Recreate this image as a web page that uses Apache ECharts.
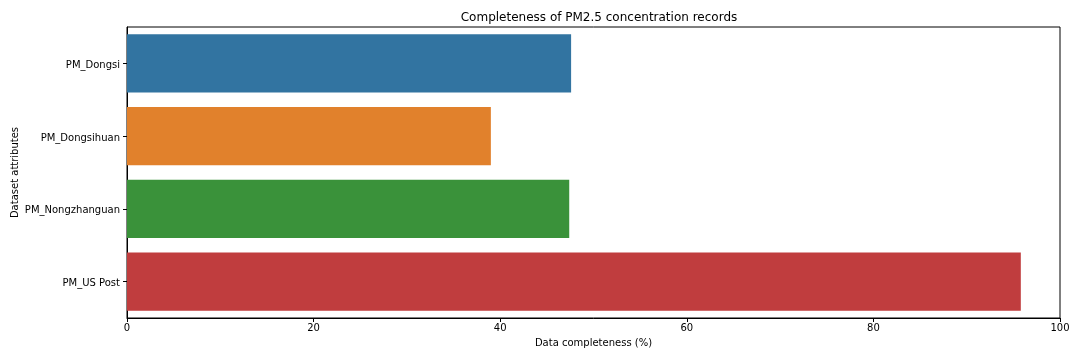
<!DOCTYPE html>
<html><head><meta charset="utf-8">
<script src="https://cdn.jsdelivr.net/npm/echarts@6/dist/echarts.min.js"></script>
<style>html,body{margin:0;padding:0;background:#fff}#c{width:1080px;height:360px}</style>
</head><body><div id="c"></div>
<script>
const categories = ["PM_Dongsi", "PM_Dongsihuan", "PM_Nongzhanguan", "PM_US Post"];
const values = [47.6, 39.0, 47.4, 95.8];
const colors = ["#3274A1", "#E1812C", "#3A923A", "#C03D3E"];
const xTicks = [0, 20, 40, 60, 80, 100];

const font = "DejaVu Sans";
const chart = echarts.init(document.getElementById('c'), null, {renderer: 'canvas'});
chart.setOption({
  animation: false,
  title: {
    text: "Completeness of PM2.5 concentration records",
    left: 594, top: 7, textAlign: 'center',
    textStyle: {fontFamily: font, fontSize: 12, fontWeight: 'normal', color: '#000'}
  },
  grid: {left: 127, right: 20, top: 27, bottom: 42, show: true, borderColor: '#000', borderWidth: 1, containLabel: false, outerBoundsMode: 'none'},
  xAxis: {
    type: 'value', min: xTicks[0], max: xTicks[xTicks.length - 1], interval: 20,
    name: "Data completeness (%)", nameLocation: 'middle', nameGap: 20, nameMoveOverlap: false,
    nameTextStyle: {fontFamily: font, fontSize: 10, color: '#000'},
    axisLine: {show: true, lineStyle: {color: '#000', width: 1}},
    axisTick: {show: true, length: 4, lineStyle: {color: '#000'}},
    axisLabel: {fontFamily: font, fontSize: 10, color: '#000', margin: 5},
    splitLine: {show: false}
  },
  yAxis: {
    type: 'category', data: categories, inverse: true,
    name: "Dataset attributes", nameLocation: 'middle', nameGap: 107, nameRotate: 90, nameMoveOverlap: false,
    nameTextStyle: {fontFamily: font, fontSize: 10, color: '#000'},
    axisLine: {show: true, lineStyle: {color: '#000', width: 1}},
    axisTick: {show: true, length: 4, alignWithLabel: true, lineStyle: {color: '#000'}},
    axisLabel: {
      fontFamily: font, fontSize: 10, color: '#000', margin: 7,
      formatter: '{a|{value}}',
      rich: {a: {fontFamily: font, fontSize: 10, color: '#000', padding: [4, 0, 0, 0]}}
    }
  },
  series: [{
    type: 'bar',
    data: values.map((v, i) => ({value: v, itemStyle: {color: colors[i]}})),
    barCategoryGap: '20%'
  }]
});
</script></body></html>
